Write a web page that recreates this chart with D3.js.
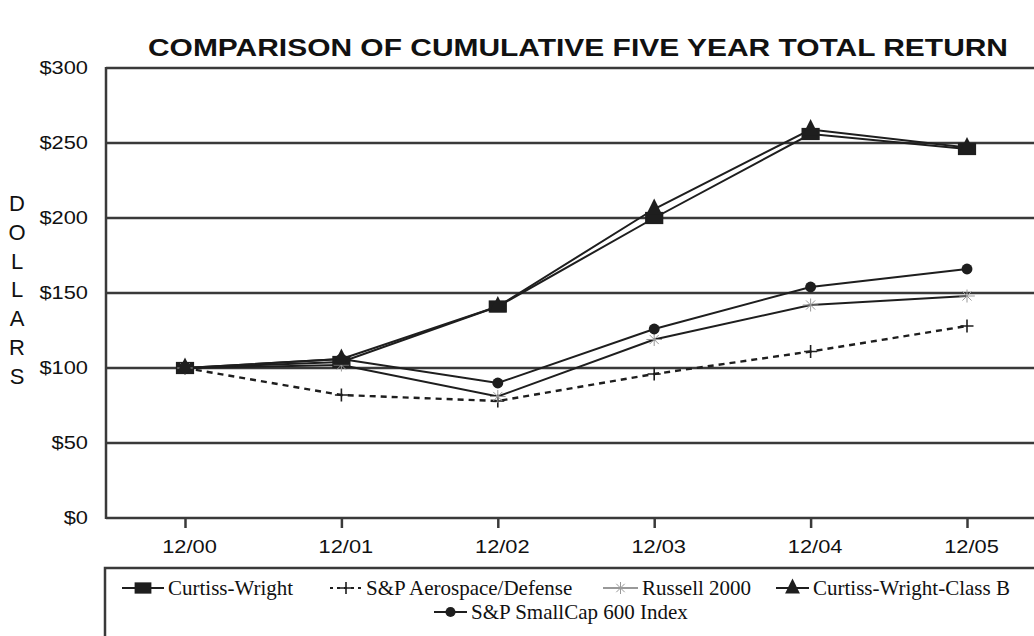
<!DOCTYPE html>
<html>
<head>
<meta charset="utf-8">
<script src="https://cdn.jsdelivr.net/npm/d3@7"></script>
<style>
  body { margin: 0; background: #fff; }
  svg { display: block; }
</style>
</head>
<body>
<svg id="chart"></svg>
<script>
const periods = ['12/00', '12/01', '12/02', '12/03', '12/04', '12/05'];
const yTicks = [0, 50, 100, 150, 200, 250, 300];

const curtissWright = [100, 104, 141, 200, 256, 246];
const spAerospace = [100, 82, 78, 96, 111, 128];
const russell2000 = [100, 102, 81, 119, 142, 148];
const curtissWrightB = [100, 106, 141, 206, 259, 247];
const spSmallCap = [100, 106, 90, 126, 154, 166];

const series = [
  { name: 'Curtiss-Wright', values: curtissWright, marker: 'square' },
  { name: 'S&P Aerospace/Defense', values: spAerospace, marker: 'plus', dash: '6,5' },
  { name: 'Russell 2000', values: russell2000, marker: 'star' },
  { name: 'Curtiss-Wright-Class B', values: curtissWrightB, marker: 'triangle' },
  { name: 'S&P SmallCap 600 Index', values: spSmallCap, marker: 'circle' },
];

const width = 1034;
const height = 636;
const margin = { top: 68, right: 0, bottom: 118, left: 106 };
const ink = '#1e1e1e';
const grid = '#3a3a3a';
const sans = 'Liberation Sans, Arial, sans-serif';

const svg = d3.select('#chart').attr('width', width).attr('height', height);

const x = d3.scalePoint().domain(periods).range([185, 967]);
const y = d3.scaleLinear().domain([0, 300]).range([height - margin.bottom, margin.top]);

// title
svg.append('text')
  .attr('x', 148)
  .attr('y', 56)
  .attr('textLength', 860)
  .attr('lengthAdjust', 'spacingAndGlyphs')
  .style('font-family', sans)
  .style('font-weight', 'bold')
  .style('font-size', '24px')
  .attr('fill', '#111')
  .text('COMPARISON OF CUMULATIVE FIVE YEAR TOTAL RETURN');

// y axis label, stacked letters
svg.append('g')
  .selectAll('text')
  .data('DOLLARS'.split(''))
  .enter()
  .append('text')
  .attr('x', 17)
  .attr('y', (d, i) => 203 + i * 28.8)
  .attr('dy', '0.36em')
  .attr('text-anchor', 'middle')
  .style('font-family', sans)
  .style('font-size', '22px')
  .attr('fill', '#111')
  .text((d) => d);

// grid lines
svg.append('g')
  .selectAll('line')
  .data(yTicks)
  .enter()
  .append('line')
  .attr('x1', margin.left)
  .attr('x2', width)
  .attr('y1', (d) => y(d))
  .attr('y2', (d) => y(d))
  .attr('stroke', grid)
  .attr('stroke-width', 2.5);

// left axis line
svg.append('line')
  .attr('x1', margin.left)
  .attr('x2', margin.left)
  .attr('y1', y(300) - 1)
  .attr('y2', y(0) + 1)
  .attr('stroke', grid)
  .attr('stroke-width', 2.5);

// y axis labels
const yAxis = svg.append('g')
  .attr('transform', `translate(${margin.left - 18},0)`)
  .call(d3.axisLeft(y).tickValues(yTicks).tickFormat((d) => `$${d}`).tickSize(0).tickPadding(0));
yAxis.select('.domain').remove();
yAxis.selectAll('text')
  .attr('x', 0)
  .attr('transform', 'scale(1.18,1)')
  .style('font-family', sans)
  .style('font-size', '18.5px')
  .attr('fill', '#111');

// x axis ticks and labels
const xAxis = svg.append('g')
  .attr('transform', `translate(0,${y(0)})`)
  .call(d3.axisBottom(x).tickSize(10).tickPadding(0));
xAxis.select('.domain').remove();
xAxis.selectAll('line').attr('stroke', grid).attr('stroke-width', 2.5);
xAxis.selectAll('text')
  .attr('dy', null)
  .attr('y', 0)
  .attr('transform', 'translate(4,35) scale(1.18,1)')
  .style('font-family', sans)
  .style('font-size', '18.5px')
  .attr('fill', '#111');

const line = d3.line()
  .x((d, i) => x(periods[i]))
  .y((d) => y(d));

function drawMarker(g, type, size) {
  const s = size;
  if (type === 'square') {
    g.append('rect').attr('x', -s * 0.7).attr('y', -s * 0.47)
      .attr('width', s * 1.4).attr('height', s * 0.94).attr('fill', ink);
  } else if (type === 'triangle') {
    g.append('path')
      .attr('d', `M0,${-s * 0.8}L${s * 0.62},${s * 0.45}L${-s * 0.62},${s * 0.45}Z`)
      .attr('fill', ink);
  } else if (type === 'circle') {
    g.append('circle').attr('r', s * 0.42).attr('fill', ink);
  } else if (type === 'plus') {
    g.append('path')
      .attr('d', `M${-s * 0.5},0H${s * 0.5}M0,${-s * 0.5}V${s * 0.5}`)
      .attr('stroke', ink).attr('stroke-width', 1.6);
  } else if (type === 'star') {
    g.append('path')
      .attr('d', `M${-s * 0.6},0H${s * 0.6}M0,${-s * 0.5}V${s * 0.5}M${-s * 0.35},${-s * 0.35}L${s * 0.35},${s * 0.35}M${-s * 0.35},${s * 0.35}L${s * 0.35},${-s * 0.35}`)
      .attr('stroke', '#999').attr('stroke-width', 1);
  }
}

// series lines
const plot = svg.append('g');
series.forEach((s) => {
  plot.append('path')
    .datum(s.values)
    .attr('d', line)
    .attr('fill', 'none')
    .attr('stroke', ink)
    .attr('stroke-width', s.dash ? 2.4 : 2)
    .attr('stroke-dasharray', s.dash || null);
});
series.forEach((s) => {
  plot.append('g')
    .selectAll('g')
    .data(s.values)
    .enter()
    .append('g')
    .attr('transform', (d, i) => `translate(${x(periods[i])},${y(d)})`)
    .each(function () { drawMarker(d3.select(this), s.marker, 13); });
});

// legend
const legend = svg.append('g');
legend.append('rect')
  .attr('x', 105)
  .attr('y', 568)
  .attr('width', width)
  .attr('height', 100)
  .attr('fill', 'none')
  .attr('stroke', grid)
  .attr('stroke-width', 2.5);

const legendPos = [
  { x: 122, tx: 168, y: 588 },
  { x: 330, tx: 366, y: 588 },
  { x: 603, tx: 642, y: 588 },
  { x: 776, tx: 813, y: 588 },
  { x: 434, tx: 471, y: 612 },
];

series.forEach((s, i) => {
  const p = legendPos[i];
  const item = legend.append('g').attr('transform', `translate(${p.x},${p.y})`);
  const w = p.tx - p.x - 4;
  item.append('line')
    .attr('x1', 0).attr('x2', w)
    .attr('stroke', s.marker === 'star' ? '#999' : ink)
    .attr('stroke-width', 2)
    .attr('stroke-dasharray', s.dash ? '3,4' : null);
  const m = item.append('g').attr('transform', `translate(${w / 2},0)`);
  drawMarker(m, s.marker, 12);
  item.append('text')
    .attr('x', p.tx - p.x)
    .attr('dy', '0.33em')
    .style('font-family', 'Liberation Serif, Times New Roman, serif')
    .style('font-size', '21px')
    .attr('fill', '#111')
    .text(s.name);
});
</script>
</body>
</html>
